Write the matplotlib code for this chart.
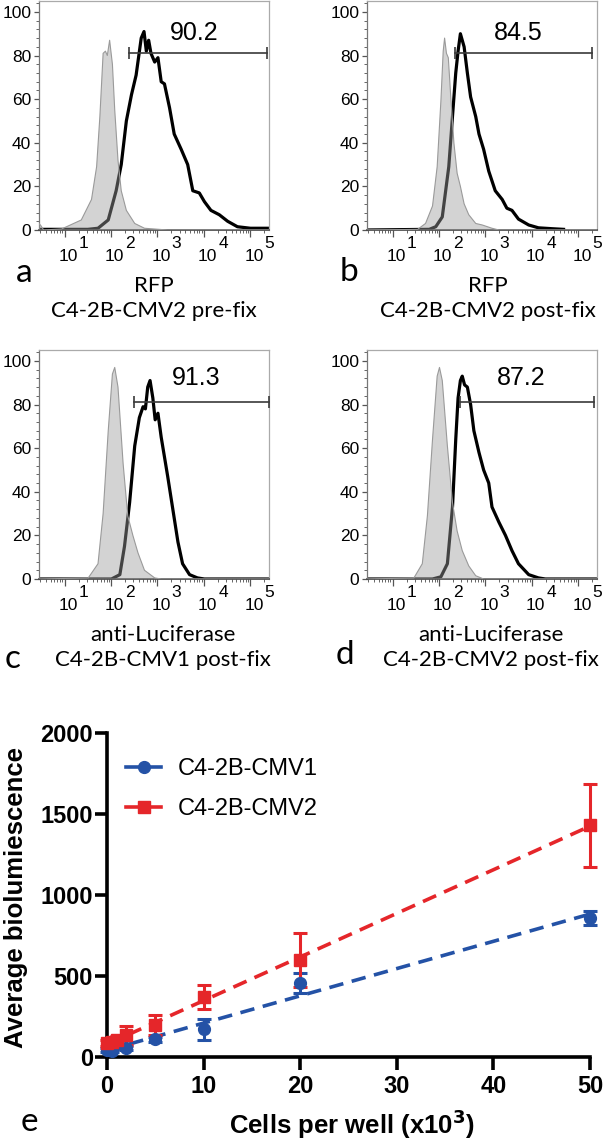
import numpy as np
import matplotlib
matplotlib.use("Agg")
import matplotlib.pyplot as plt
from matplotlib.lines import Line2D
from matplotlib.ticker import AutoMinorLocator, FixedLocator, LogLocator, NullFormatter

# ---- flow cytometry histograms (x in log10 units, y in % of max) ----
a_ctrl_log = [0.45, 0.49, 0.55, 0.94, 1.36, 1.58, 1.69, 1.76, 1.83, 1.88, 1.92,
              1.97, 2.03, 2.08, 2.15, 2.22, 2.33, 2.51, 2.72, 3.22, 5.4]
a_ctrl_pct = [3, 2, 0, 0.5, 4.6, 14, 29, 52, 81, 82, 80,
              87, 76, 55, 32, 18, 9, 3, 0.8, 0, 0]
a_stain_log = [0.45, 1.5, 1.72, 1.94, 2.11, 2.22, 2.33, 2.44, 2.54, 2.65, 2.71,
               2.76, 2.81, 2.86, 2.94, 3.01, 3.08, 3.15, 3.26, 3.36, 3.51, 3.65,
               3.76, 3.90, 4.01, 4.15, 4.33, 4.51, 4.72, 5.0, 5.4]
a_stain_pct = [0.3, 0.3, 0.8, 4.6, 18, 30, 50, 62, 71, 88, 91,
               82, 87, 81, 77, 79, 68, 67, 56, 44, 37, 30,
               18, 17, 13, 9, 7, 4, 1.5, 0.8, 0.8]

b_ctrl_log = [0.45, 1.54, 1.71, 1.86, 1.96, 2.04, 2.09, 2.12, 2.16, 2.20, 2.25,
              2.32, 2.39, 2.46, 2.54, 2.64, 2.79, 2.93, 3.14, 3.29, 5.4]
b_ctrl_pct = [0, 0.3, 3, 11, 29, 59, 82, 88, 81, 79, 62,
              40, 26, 20, 12, 7, 3, 2.3, 0.8, 0, 0]
b_stain_log = [0.45, 1.79, 1.93, 2.07, 2.21, 2.30, 2.36, 2.41, 2.46, 2.54, 2.61,
               2.68, 2.79, 2.86, 2.96, 3.07, 3.21, 3.36, 3.46, 3.57, 3.71, 3.93,
               4.14, 4.43, 4.68]
b_stain_pct = [0, 0.3, 1.5, 6, 29, 55, 72, 82, 90, 84, 72,
               61, 52, 44, 37, 27, 18, 14, 10, 9, 5, 2.3,
               1, 0.6, 0.3]

c_ctrl_log = [0.45, 1.51, 1.72, 1.83, 1.94, 2.03, 2.08, 2.15, 2.26, 2.36, 2.47,
              2.58, 2.72, 2.94, 3.08, 5.4]
c_ctrl_pct = [0, 0.5, 7, 30, 68, 94, 97, 88, 53, 29, 20,
              12, 4, 0.5, 0, 0]
c_stain_log = [0.45, 2.01, 2.19, 2.29, 2.40, 2.51, 2.61, 2.69, 2.74, 2.79, 2.84,
               2.90, 2.95, 3.01, 3.08, 3.15, 3.22, 3.33, 3.44, 3.54, 3.69, 3.86,
               4.01, 5.4]
c_stain_pct = [0, 0, 2, 15, 35, 61, 74, 79, 78, 88, 91,
               83, 73, 76, 65, 56, 47, 32, 17, 7, 2, 0.5,
               0, 0]

d_ctrl_log = [0.45, 1.46, 1.64, 1.75, 1.86, 1.96, 2.01, 2.07, 2.18, 2.29, 2.39,
              2.50, 2.64, 2.79, 2.96, 5.4]
d_ctrl_pct = [0, 0.5, 7, 29, 64, 93, 97, 91, 61, 35, 22,
              13, 6, 1.5, 0, 0]
d_stain_log = [0.45, 1.86, 2.04, 2.18, 2.29, 2.36, 2.41, 2.46, 2.50, 2.55, 2.61,
               2.68, 2.75, 2.86, 2.96, 3.07, 3.14, 3.29, 3.43, 3.57, 3.71, 3.93,
               4.14, 4.29, 5.4]
d_stain_pct = [0, 0, 1, 7, 33, 64, 83, 91, 93, 89, 88,
               80, 68, 58, 50, 44, 33, 26, 20, 13, 7, 2,
               0.5, 0, 0]

gate_lo = [2.39, 2.34, 2.49, 2.45]
gate_hi = [5.35, 5.29, 5.40, 5.34]
gate_level = [81, 81, 81, 81]
gate_text = ["90.2", "84.5", "91.3", "87.2"]
gate_text_x = [3.78, 3.71, 3.83, 3.77]
gate_text_y = [90.5, 90.5, 92, 92]

panel_letters = ["a", "b", "c", "d"]
marker_names = ["RFP", "RFP", "anti-Luciferase", "anti-Luciferase"]
sample_names = ["C4-2B-CMV2 pre-fix", "C4-2B-CMV2 post-fix",
                "C4-2B-CMV1 post-fix", "C4-2B-CMV2 post-fix"]
decades = [1, 2, 3, 4, 5]

# ---- luciferase assay ----
cells = [0, 0.5, 1, 2, 5, 10, 20, 50]
cmv1_mean = [45, 40, 80, 55, 110, 170, 458, 860]
cmv1_err = [12, 12, 15, 12, 15, 62, 60, 43]
cmv2_mean = [85, 95, 105, 135, 195, 371, 598, 1430]
cmv2_err = [20, 20, 25, 58, 62, 72, 165, 255]

BLUE = "#2452a6"
RED = "#e5262a"
W, H = 605, 1142
LABEL_FONT = ["Lato", "DejaVu Sans"]
TICK_FONT = ["Liberation Sans", "DejaVu Sans"]

fig = plt.figure(figsize=(W / 100, H / 100), dpi=100)


def px_axes(left, top, right, bottom):
    return fig.add_axes([left / W, 1 - bottom / H, (right - left) / W, (bottom - top) / H])


def fig_text(x, y, s, **kw):
    fig.text(x / W, 1 - y / H, s, **kw)


hist_data = [
    (a_ctrl_log, a_ctrl_pct, a_stain_log, a_stain_pct),
    (b_ctrl_log, b_ctrl_pct, b_stain_log, b_stain_pct),
    (c_ctrl_log, c_ctrl_pct, c_stain_log, c_stain_pct),
    (d_ctrl_log, d_ctrl_pct, d_stain_log, d_stain_pct),
]
boxes = [(39, 1, 269, 230), (367, 1, 597, 230), (39, 350, 269, 579), (367, 350, 597, 579)]

for i, (ctrl_log, ctrl_pct, stain_log, stain_pct) in enumerate(hist_data):
    left, top, right, bottom = boxes[i]
    ax = px_axes(left, top, right, bottom)

    ax.plot(10 ** np.array(stain_log), stain_pct, color="black", lw=2.3,
            solid_joinstyle="round", zorder=2)
    cx = 10 ** np.array(ctrl_log)
    ax.fill_between(cx, ctrl_pct, 0, facecolor="#9b9b9b", alpha=0.44,
                    edgecolor="none", zorder=3)
    ax.plot(cx, ctrl_pct, color="#9a9a9a", lw=0.8, zorder=3)

    # gate bar with value
    ax.plot([10 ** gate_lo[i], 10 ** gate_hi[i]], [gate_level[i]] * 2,
            color="#3a3a3a", lw=1.2, marker="|", ms=8, mew=1.2, clip_on=False, zorder=4)
    ax.text(10 ** gate_text_x[i], gate_text_y[i], gate_text[i], ha="center", va="center",
            fontsize=18, family=TICK_FONT, color="black")

    ax.set_xscale("log")
    ax.set_xlim(10 ** 0.45, 10 ** 5.4)
    ax.set_ylim(0, 105)
    ax.xaxis.set_major_locator(FixedLocator([10.0 ** d for d in decades]))
    ax.xaxis.set_minor_locator(LogLocator(base=10, subs=np.arange(2, 10)))
    ax.xaxis.set_major_formatter(NullFormatter())
    ax.xaxis.set_minor_formatter(NullFormatter())
    ax.set_yticks([0, 20, 40, 60, 80, 100])
    ax.yaxis.set_minor_locator(AutoMinorLocator(5))
    ax.tick_params(axis="both", which="major", colors="#555555", width=0.9)
    ax.tick_params(axis="x", which="major", length=5)
    ax.tick_params(axis="y", which="major", length=3.5, pad=2, labelsize=12.5)
    ax.tick_params(which="minor", colors="#666666", length=2.2, width=0.7)
    for lab in ax.get_yticklabels():
        lab.set_family(TICK_FONT)
        lab.set_color("black")
    for name, sp in ax.spines.items():
        sp.set_linewidth(0.9)
        sp.set_color("#aaaaaa")
    ax.spines["left"].set_color("#777777")
    ax.spines["bottom"].set_color("#444444")
    ax.spines["bottom"].set_linewidth(1.2)

    for d in decades:
        ax.annotate("10", xy=(10.0 ** d, 0), xycoords=("data", "axes fraction"),
                    xytext=(2.5, -19), textcoords="offset points", ha="center",
                    va="center", fontsize=12.5, family=TICK_FONT, annotation_clip=False)
        ax.annotate(str(d), xy=(10.0 ** d, 0), xycoords=("data", "axes fraction"),
                    xytext=(13.8, -10), textcoords="offset points", ha="center",
                    va="center", fontsize=12.5, family=TICK_FONT, annotation_clip=False)

    cxp = [154, 488, 163, 491][i]
    base = bottom
    fig_text(cxp, base + 56, marker_names[i], ha="center", va="center",
             fontsize=16, family=LABEL_FONT)
    fig_text(cxp, base + 81, sample_names[i], ha="center", va="center",
             fontsize=16, family=LABEL_FONT)
    fig_text([24, 349, 13, 345][i], base + [43, 42, 80, 76][i], panel_letters[i],
             ha="center", va="center", fontsize=24, family=LABEL_FONT)

# ---- panel e ----
ax = px_axes(107, 733, 590, 1057)
xs = np.array(cells)
for mean, err, color, marker in [(cmv1_mean, cmv1_err, BLUE, "o"),
                                 (cmv2_mean, cmv2_err, RED, "s")]:
    slope, icpt = np.polyfit(xs, np.array(mean), 1)
    fit_x = np.array([xs.min(), xs.max()])
    ax.plot(fit_x, slope * fit_x + icpt, color=color, lw=2.6, dashes=(4, 2.4),
            clip_on=False, zorder=4)
    cont = ax.errorbar(xs, mean, yerr=err, fmt=marker, color=color, ms=8.5,
                       capsize=5, elinewidth=2.2, capthick=2.2, zorder=5)
    cont.lines[0].set_clip_on(False)
    for art in list(cont.lines[1]) + list(cont.lines[2]):
        art.set_clip_on(False)

ax.set_xlim(0, 50)
ax.set_ylim(0, 2000)
ax.set_xticks([0, 10, 20, 30, 40, 50])
ax.set_yticks([0, 500, 1000, 1500, 2000])
for sp in ["top", "right"]:
    ax.spines[sp].set_visible(False)
for sp in ["left", "bottom"]:
    ax.spines[sp].set_linewidth(2.6)
ax.tick_params(axis="both", width=2.6, length=9, labelsize=17)
ax.tick_params(axis="y", pad=1)
ax.tick_params(axis="x", pad=4)
for lab in ax.get_xticklabels() + ax.get_yticklabels():
    lab.set_family(TICK_FONT)
    lab.set_fontweight("bold")

handles = [Line2D([], [], color=BLUE, lw=2.6, marker="o", ms=8.5),
           Line2D([], [], color=RED, lw=2.6, marker="s", ms=8.5)]
leg = ax.legend(handles, ["C4-2B-CMV1", "C4-2B-CMV2"], loc="upper left",
                bbox_to_anchor=(0.0, 0.98), frameon=False, handlelength=1.5,
                handletextpad=0.7, labelspacing=0.75, borderaxespad=0.4,
                prop={"family": TICK_FONT, "size": 17})

fig_text(16, 897, "Average biolumiescence", rotation=90, ha="center", va="center",
         fontsize=18.5, fontweight="bold", family=TICK_FONT)
fig_text(352, 1124, "Cells per well (x10$^\\mathbf{3}$)", ha="center", va="center",
         fontsize=18.5, fontweight="bold", family=TICK_FONT)
fig_text(29, 1122, "e", ha="center", va="center", fontsize=24, family=LABEL_FONT)

fig.savefig("out.png", dpi=100)
